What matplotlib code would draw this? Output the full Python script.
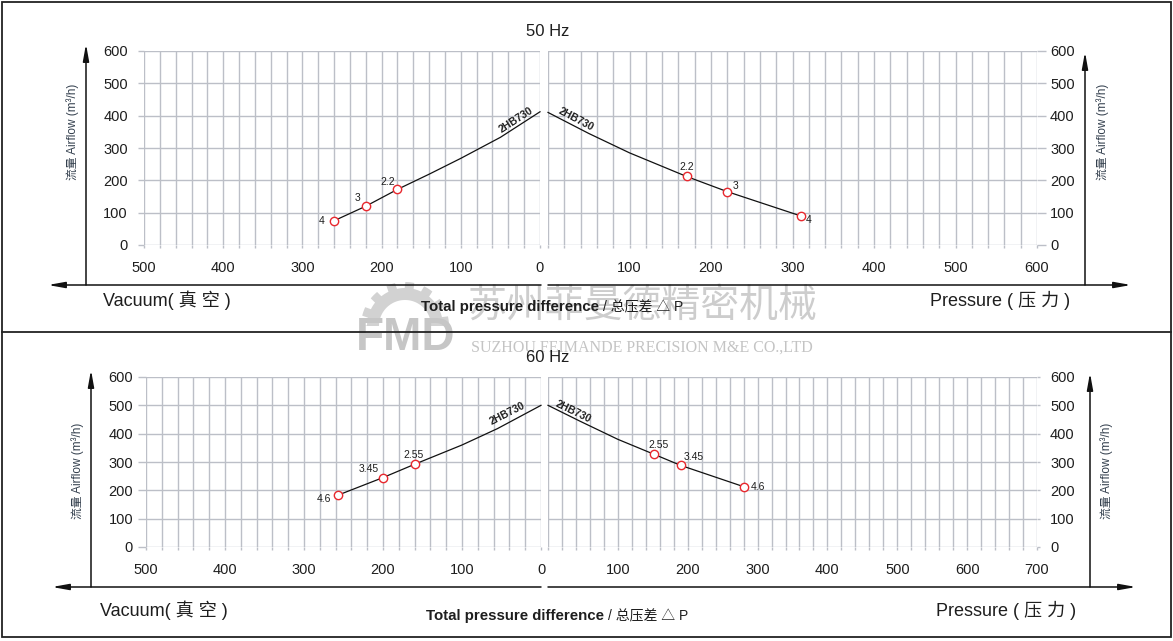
import matplotlib
matplotlib.use('Agg')
import matplotlib.pyplot as plt
import numpy as np
from matplotlib.patches import Polygon, Rectangle

W, H = 1173, 641
FONTS = ['Liberation Sans', 'Noto Sans CJK SC', 'DejaVu Sans']
plt.rcParams['font.family'] = FONTS

GRID = '#bcbfc7'
TXT = '#1e1e1e'
RED = '#e8282e'

# 50 Hz, vacuum side
vac50_x = [260, 220, 180, 140, 100, 50, 0]
vac50_y = [75, 120, 172, 219, 268, 333, 412]
vac50_mark_x = [260, 220, 180]
vac50_mark_y = [75, 120, 172]
vac50_mark_lbl = ['4', '3', '2.2']

# 50 Hz, pressure side
prs50_x = [0, 50, 100, 170, 220, 310]
prs50_y = [410, 345, 285, 212, 165, 90]
prs50_mark_x = [170, 220, 310]
prs50_mark_y = [212, 165, 90]
prs50_mark_lbl = ['2.2', '3', '4']

# 60 Hz, vacuum side
vac60_x = [257, 200, 160, 100, 55, 0]
vac60_y = [183, 245, 292, 360, 418, 500]
vac60_mark_x = [257, 200, 160]
vac60_mark_y = [183, 245, 292]
vac60_mark_lbl = ['4.6', '3.45', '2.55']

# 60 Hz, pressure side
prs60_x = [0, 45, 100, 152, 190, 280]
prs60_y = [500, 445, 380, 327, 288, 213]
prs60_mark_x = [152, 190, 280]
prs60_mark_y = [327, 288, 213]
prs60_mark_lbl = ['2.55', '3.45', '4.6']

model = '2HB730'
y_ticks = [0, 100, 200, 300, 400, 500, 600]

fig = plt.figure(figsize=(W / 100, H / 100), dpi=100)


def px_rect(x0, x1, ytop, ybot):
    return [x0 / W, 1 - ybot / H, (x1 - x0) / W, (ybot - ytop) / H]


def panel(rect, xmax, invert, side, ylen, ypad):
    ax = fig.add_axes(rect)
    if invert:
        ax.set_xlim(xmax, 0)
    else:
        ax.set_xlim(0, xmax)
    ax.set_ylim(0, 600)
    for s in ax.spines.values():
        s.set_visible(False)
    xt = np.arange(0, xmax + 1, 100)
    ax.set_xticks(xt)
    # the shared "0" is printed only once, under the left panel
    ax.set_xticklabels([str(v) if (v != 0 or invert) else '' for v in xt])
    ax.set_xticks(np.arange(0, xmax + 1, 20), minor=True)
    ax.set_yticks(y_ticks)
    ax.grid(which='both', axis='x', color=GRID, lw=1.0)
    ax.grid(which='major', axis='y', color=GRID, lw=1.0)
    ax.tick_params(axis='x', which='both', length=2.5, color=GRID, width=1.0,
                   pad=9, labelsize=10.5, labelcolor=TXT)
    ax.tick_params(axis='y', length=ylen * 0.72, color=GRID, width=1.0,
                   pad=ypad * 0.72, labelsize=10.5, labelcolor=TXT)
    if side == 'right':
        ax.yaxis.tick_right()
    ax.set_axisbelow(True)
    return ax


def curve(ax, xs, ys, mx, my, labels, offsets, lbl_xy, lbl_rot):
    ax.plot(xs, ys, color='#111111', lw=0.9, zorder=3, clip_on=False)
    ax.plot(mx, my, 'o', ms=6, mfc='white', mec=RED, mew=1.0, zorder=4,
            clip_on=False)
    for x, y, t, off in zip(mx, my, labels, offsets):
        ax.annotate(t, (x, y), xytext=off, textcoords='offset points',
                    ha='center', va='center', fontsize=7.5, color=TXT)
    ax.text(lbl_xy[0], lbl_xy[1], model, rotation=lbl_rot, ha='center',
            va='center', fontsize=7.5, fontweight='bold', color=TXT,
            rotation_mode='anchor')


ax1 = panel(px_rect(144, 540, 51, 245), 500, True, 'left', 6, 10)
ax2 = panel(px_rect(548, 1037, 51, 245), 600, False, 'right', 9, 4)
ax3 = panel(px_rect(146, 541, 377, 547), 500, True, 'left', 8, 5)
ax4 = panel(px_rect(548, 1037, 377, 547), 700, False, 'right', 3, 10)

curve(ax1, vac50_x, vac50_y, vac50_mark_x, vac50_mark_y, vac50_mark_lbl,
      [(-9, 0), (-6, 6), (-7, 5)], (30, 388), 33)
curve(ax2, prs50_x, prs50_y, prs50_mark_x, prs50_mark_y, prs50_mark_lbl,
      [(0, 7), (6, 4), (6, -3)], (34, 388), -28)
curve(ax3, vac60_x, vac60_y, vac60_mark_x, vac60_mark_y, vac60_mark_lbl,
      [(-10, -3), (-10, 6), (-1, 7)], (42, 470), 27)
curve(ax4, prs60_x, prs60_y, prs60_mark_x, prs60_mark_y, prs60_mark_lbl,
      [(3, 7), (9, 6), (10, 0)], (36, 476), -26)

# overlay in pixel coordinates for frames, arrows and captions
ov = fig.add_axes([0, 0, 1, 1])
ov.set_xlim(0, W)
ov.set_ylim(H, 0)
ov.axis('off')
ov.set_zorder(5)

ov.add_patch(Rectangle((2, 2), W - 4, 635, fill=False, ec='#222222', lw=1.3))
ov.plot([2, W - 2], [332, 332], color='#222222', lw=1.3)

# watermark
gear_c = (405, 326)
ang = np.linspace(0, np.pi, 200)
r_out = np.where((np.floor(ang / (np.pi / 7) * 2) % 2) == 0, 44, 38)
gx = gear_c[0] + r_out * np.cos(ang)
gy = gear_c[1] - r_out * np.sin(ang)
inner = np.linspace(np.pi, 0, 100)
gx = np.concatenate([gx, gear_c[0] + 26 * np.cos(inner)])
gy = np.concatenate([gy, gear_c[1] - 26 * np.sin(inner)])
ov.add_patch(Polygon(np.column_stack([gx, gy]), closed=True, fc='#d2d2d2',
                     ec='none', zorder=1))
ov.text(406, 338, 'FMD', fontsize=33, fontweight='bold',
        color='#c6c6c6', ha='center', va='center', zorder=1)
ov.text(642, 306, '苏州菲曼德精密机械', fontsize=28, color='#cdcdcd',
        ha='center', va='center', family=['Noto Sans CJK SC'], zorder=1)
ov.text(642, 348, 'SUZHOU FEIMANDE PRECISION M&E CO.,LTD', fontsize=11.5,
        color='#c4c4c4', ha='center', va='center',
        family=['Liberation Serif'], zorder=1)

arrow = dict(arrowstyle='-|>,head_length=1.0,head_width=0.18', color='#111111',
             lw=1.1, shrinkA=0, shrinkB=0)


def axes_frame(yb, xl_v, ytop_l, xr_v, ytop_r, x_left_end, x_right_end):
    ov.annotate('', xy=(xl_v, ytop_l), xytext=(xl_v, yb), arrowprops=arrow)
    ov.annotate('', xy=(xr_v, ytop_r), xytext=(xr_v, yb), arrowprops=arrow)
    ov.annotate('', xy=(x_left_end, yb), xytext=(541, yb), arrowprops=arrow)
    ov.annotate('', xy=(x_right_end, yb), xytext=(548, yb), arrowprops=arrow)


axes_frame(285, 86, 44, 1085, 52, 48, 1131)
axes_frame(587, 91, 370, 1090, 373, 52, 1136)

ylab = '流量 Airflow (m³/h)'
for x, y in [(73, 132), (1103, 132), (78, 471), (1107, 471)]:
    ov.text(x, y, ylab, rotation=90, fontsize=8.5, color='#34404e',
            ha='center', va='center')

for y, hz in [(31, '50 Hz'), (358, '60 Hz')]:
    ov.text(548, y, hz, fontsize=12, color=TXT, ha='center', va='center',
            zorder=6)

for yv, xv, xp, ypt in [(300, 103, 930, 300), (610, 100, 936, 610)]:
    ov.text(xv, yv, 'Vacuum( 真 空 )', fontsize=13, color=TXT,
            ha='left', va='center')
    ov.text(xp, ypt, 'Pressure ( 压 力 )', fontsize=13, color=TXT,
            ha='left', va='center')

for xs, yc in [(599, 307), (604, 616)]:
    ov.text(xs, yc, 'Total pressure difference', fontsize=10.8,
            fontweight='bold', color=TXT, ha='right', va='center', zorder=6)
    ov.text(xs + 4, yc, '/ 总压差 △ P', fontsize=10, color=TXT,
            ha='left', va='center', zorder=6)

fig.savefig('out.png', dpi=100)
